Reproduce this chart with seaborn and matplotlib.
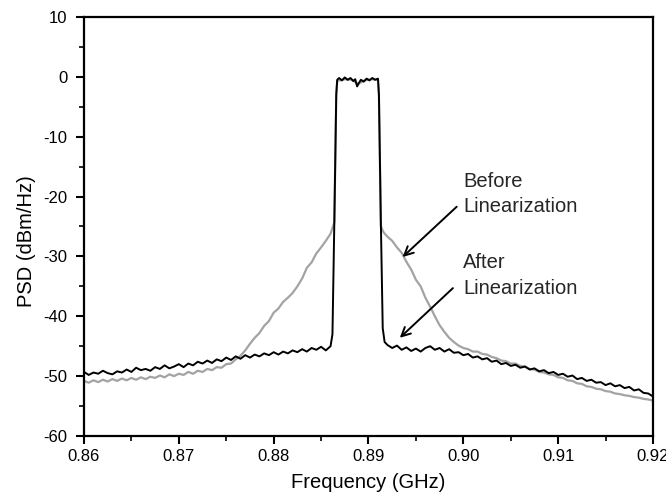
import numpy as np
import pandas as pd
import matplotlib
matplotlib.use("Agg")
import matplotlib.pyplot as plt
from matplotlib.ticker import MultipleLocator, FormatStrFormatter
import seaborn as sns

# ---------------- data ----------------
after_freq = [
    0.8600, 0.8605, 0.8610, 0.8615, 0.8620, 0.8625, 0.8630, 0.8635, 0.8640, 0.8645,
    0.8650, 0.8655, 0.8660, 0.8665, 0.8670, 0.8675, 0.8680, 0.8685, 0.8690, 0.8695,
    0.8700, 0.8705, 0.8710, 0.8715, 0.8720, 0.8725, 0.8730, 0.8735, 0.8740, 0.8745,
    0.8750, 0.8755, 0.8760, 0.8765, 0.8770, 0.8775, 0.8780, 0.8785, 0.8790, 0.8795,
    0.8800, 0.8805, 0.8810, 0.8815, 0.8820, 0.8825, 0.8830, 0.8835, 0.8840, 0.8845,
    0.8850, 0.8855, 0.8860,
    0.8862, 0.8864, 0.8866, 0.8867,
    0.8869, 0.8872, 0.8875, 0.8878, 0.8881, 0.8884, 0.8886, 0.8888, 0.8890, 0.8892,
    0.8895, 0.8898, 0.8901, 0.8904, 0.8907, 0.8910,
    0.8911, 0.8913, 0.8915, 0.8917, 0.8920,
    0.8925, 0.8930, 0.8935, 0.8940, 0.8945, 0.8950, 0.8955, 0.8960, 0.8965, 0.8970,
    0.8975, 0.8980, 0.8985, 0.8990, 0.8995, 0.9000, 0.9005, 0.9010, 0.9015, 0.9020,
    0.9025, 0.9030, 0.9035, 0.9040, 0.9045, 0.9050, 0.9055, 0.9060, 0.9065, 0.9070,
    0.9075, 0.9080, 0.9085, 0.9090, 0.9095, 0.9100, 0.9105, 0.9110, 0.9115, 0.9120,
    0.9125, 0.9130, 0.9135, 0.9140, 0.9145, 0.9150, 0.9155, 0.9160, 0.9165, 0.9170,
    0.9175, 0.9180, 0.9185, 0.9190, 0.9195, 0.9200,
]
after_psd = [
    -49.3, -49.8, -49.4, -49.6, -49.1, -49.5, -49.7, -49.2, -49.4, -48.9,
    -49.3, -48.6, -49.0, -48.8, -49.1, -48.5, -48.8, -48.2, -48.7, -48.4,
    -48.0, -48.5, -47.9, -48.2, -47.6, -47.9, -47.4, -47.8, -47.2, -47.5,
    -46.9, -47.3, -46.7, -47.1, -46.5, -46.9, -46.4, -46.7, -46.2, -46.5,
    -46.0, -46.4, -45.9, -46.2, -45.7, -46.0, -45.5, -45.9, -45.3, -45.6,
    -45.1, -45.7, -45.0,
    -43.0, -24.0, -3.0, -0.5,
    -0.2, -0.6, -0.1, -0.5, -0.2, -0.7, -0.4, -1.6, -1.0, -0.5,
    -0.8, -0.3, -0.6, -0.2, -0.5, -0.3,
    -3.0, -24.0, -42.0, -44.3, -44.8,
    -45.3, -44.9, -45.6, -45.2, -45.8, -45.4, -45.9, -45.3, -45.0, -45.6,
    -45.3, -45.9, -45.5, -46.1, -46.0, -46.5, -46.3, -46.9, -46.7, -47.2,
    -47.0, -47.6, -47.4, -48.0, -47.8, -48.3, -48.1, -48.6, -48.4, -48.9,
    -48.7, -49.2, -49.0, -49.5, -49.3, -49.8, -49.6, -50.1, -49.9, -50.5,
    -50.3, -50.8, -50.6, -51.1, -51.0, -51.5, -51.2, -51.7, -51.5, -52.0,
    -51.8, -52.4, -52.2, -52.8, -52.9, -53.4,
]

before_freq = [
    0.8600, 0.8605, 0.8610, 0.8615, 0.8620, 0.8625, 0.8630, 0.8635, 0.8640, 0.8645,
    0.8650, 0.8655, 0.8660, 0.8665, 0.8670, 0.8675, 0.8680, 0.8685, 0.8690, 0.8695,
    0.8700, 0.8705, 0.8710, 0.8715, 0.8720, 0.8725, 0.8730, 0.8735, 0.8740, 0.8745,
    0.8750, 0.8755, 0.8760, 0.8765,
    0.8770, 0.8775, 0.8780, 0.8785, 0.8790, 0.8795, 0.8800, 0.8805, 0.8810, 0.8815,
    0.8820, 0.8825, 0.8830, 0.8835, 0.8840, 0.8845, 0.8850, 0.8855, 0.8860,
    0.8864, 0.8866, 0.8867,
    0.8875, 0.8882, 0.8889, 0.8896, 0.8903, 0.8910,
    0.8911, 0.8913, 0.8916,
    0.8920, 0.8925, 0.8930, 0.8935, 0.8940, 0.8945, 0.8950, 0.8955, 0.8960, 0.8965,
    0.8970, 0.8975, 0.8980, 0.8985, 0.8990, 0.8995, 0.9000, 0.9005, 0.9010, 0.9015,
    0.9020, 0.9025, 0.9030, 0.9035, 0.9040, 0.9045, 0.9050, 0.9055, 0.9060, 0.9065,
    0.9070, 0.9075, 0.9080, 0.9085, 0.9090, 0.9095, 0.9100, 0.9105, 0.9110, 0.9115,
    0.9120, 0.9125, 0.9130, 0.9135, 0.9140, 0.9145, 0.9150, 0.9155, 0.9160, 0.9165,
    0.9170, 0.9175, 0.9180, 0.9185, 0.9190, 0.9195, 0.9200,
]
before_psd = [
    -50.8, -51.1, -50.7, -51.0, -50.6, -50.9, -50.5, -50.8, -50.4, -50.7,
    -50.3, -50.6, -50.2, -50.5, -50.1, -50.3, -49.9, -50.2, -49.7, -50.0,
    -49.6, -49.8, -49.3, -49.6, -49.1, -49.3, -48.8, -49.0, -48.5, -48.6,
    -48.0, -47.9, -47.2, -46.6,
    -45.7, -44.6, -43.6, -42.8, -41.6, -40.8, -39.4, -38.7, -37.6, -36.9,
    -36.1, -35.0, -33.7, -31.9, -31.0, -29.5, -28.5, -27.4, -26.2,
    -24.3, -3.0, -0.7,
    -0.4, -0.5, -1.2, -0.6, -0.4, -0.5,
    -3.0, -25.0, -26.0,
    -26.7, -27.4, -28.5, -29.4, -30.9, -32.2, -33.9, -35.0, -36.9, -38.4,
    -40.0, -41.5, -42.6, -43.6, -44.3, -44.9, -45.3, -45.5, -45.9, -45.9,
    -46.3, -46.4, -46.8, -47.0, -47.4, -47.5, -47.9, -47.9, -48.3, -48.4,
    -48.8, -48.9, -49.3, -49.4, -49.7, -49.8, -50.2, -50.3, -50.7, -50.8,
    -51.2, -51.3, -51.7, -51.8, -52.1, -52.2, -52.5, -52.6, -52.9, -53.0,
    -53.2, -53.3, -53.5, -53.6, -53.8, -53.9, -54.1,
]

x_label = "Frequency (GHz)"
y_label = "PSD (dBm/Hz)"
before_text = ["Before", "Linearization"]
after_text = ["After", "Linearization"]

# ---------------- style ----------------
sns.set_style("ticks")
plt.rcParams["font.family"] = ["Liberation Sans", "DejaVu Sans"]
plt.rcParams["axes.unicode_minus"] = False

fig = plt.figure(figsize=(6.66, 4.96), dpi=100)
ax = fig.add_axes([0.1261, 0.1210, 0.8544, 0.8448])

before_df = pd.DataFrame({"freq": before_freq, "psd": before_psd})
after_df = pd.DataFrame({"freq": after_freq, "psd": after_psd})

sns.lineplot(data=before_df, x="freq", y="psd", color="#a3a3a3",
             linewidth=1.6, ax=ax, zorder=2)
sns.lineplot(data=after_df, x="freq", y="psd", color="black",
             linewidth=1.4, ax=ax, zorder=3)

ax.set_xlim(0.86, 0.92)
ax.set_ylim(-60, 10)
ax.xaxis.set_major_locator(MultipleLocator(0.01))
ax.xaxis.set_minor_locator(MultipleLocator(0.005))
ax.xaxis.set_major_formatter(FormatStrFormatter("%.2f"))
ax.yaxis.set_major_locator(MultipleLocator(10))
ax.yaxis.set_minor_locator(MultipleLocator(5))

for s in ax.spines.values():
    s.set_color("black")
    s.set_linewidth(1.6)

ax.tick_params(which="major", direction="out", length=6, width=1.5,
               color="black", labelsize=12, labelcolor="black")
ax.tick_params(which="minor", direction="out", length=3.5, width=1.2,
               color="black")
ax.tick_params(axis="x", which="major", pad=3.4)
ax.tick_params(axis="y", which="major", pad=6)
ax.tick_params(top=False, right=False, which="both")

ax.set_xlabel(x_label, fontsize=14.5, color="black")
ax.set_ylabel(y_label, fontsize=14.5, color="black")
ax.xaxis.set_label_coords(0.5, -0.0895)
ax.yaxis.set_label_coords(-0.0844, 0.465)

arrow_kw = dict(arrowstyle="->", lw=1.4, color="black",
                shrinkA=0, shrinkB=0, mutation_scale=16)
ax.annotate("", xy=(0.8936, -30.1), xytext=(0.8993, -21.7), arrowprops=arrow_kw)
ax.annotate("", xy=(0.8933, -43.6), xytext=(0.8989, -35.3), arrowprops=arrow_kw)

ax.text(0.9000, -18.35, before_text[0], fontsize=14.5, va="baseline", ha="left")
ax.text(0.9000, -22.66, before_text[1], fontsize=14.5, va="baseline", ha="left")
ax.text(0.9000, -31.98, after_text[0], fontsize=14.5, va="baseline", ha="left")
ax.text(0.9000, -36.27, after_text[1], fontsize=14.5, va="baseline", ha="left")

fig.savefig("out.png", dpi=100)
